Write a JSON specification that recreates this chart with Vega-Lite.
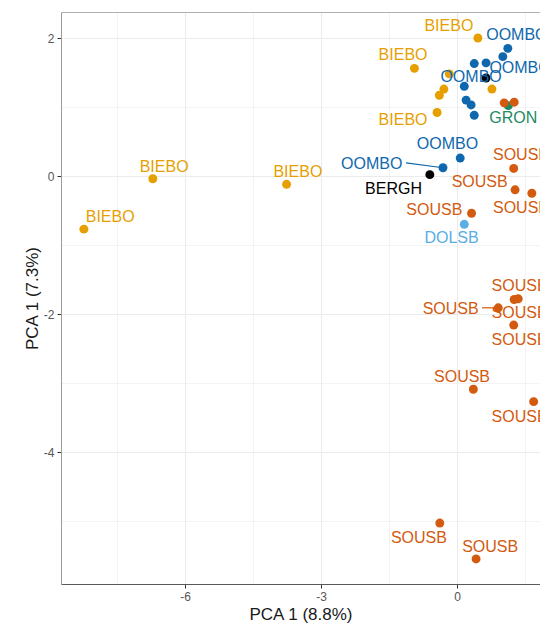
{
  "$schema": "https://vega.github.io/schema/vega-lite/v6.json",
  "autosize": {"type": "none"},
  "padding": {"left": 61, "top": 12, "right": 0, "bottom": 42},
  "width": 479,
  "height": 572,
  "background": "white",
  "view": {"stroke": null},
  "config": {
    "font": "Liberation Sans",
    "axis": {"labelFont": "Liberation Sans", "titleFont": "Liberation Sans"}
  },
  "data": {
    "values": [
      {"g": "BIEBO", "x": -8.23, "y": -0.77, "lx": -7.65, "ly": -0.59},
      {"g": "BIEBO", "x": -6.71, "y": -0.04, "lx": -6.46, "ly": 0.13},
      {"g": "BIEBO", "x": -3.76, "y": -0.12, "lx": -3.51, "ly": 0.06},
      {"g": "BIEBO", "x": -0.94, "y": 1.56, "lx": -1.19, "ly": 1.75},
      {"g": "BIEBO", "x": 0.46, "y": 2.0, "lx": -0.18, "ly": 2.17},
      {"g": "BIEBO", "x": -0.17, "y": 1.48},
      {"g": "BIEBO", "x": -0.29, "y": 1.26},
      {"g": "BIEBO", "x": -0.39, "y": 1.17},
      {"g": "BIEBO", "x": -0.44, "y": 0.92, "lx": -1.19, "ly": 0.81},
      {"g": "BIEBO", "x": 0.77, "y": 1.26},
      {"g": "OOMBO", "x": 1.12, "y": 1.85, "lx": 1.32, "ly": 2.04},
      {"g": "OOMBO", "x": 1.01, "y": 1.73, "lx": 1.39, "ly": 1.57},
      {"g": "OOMBO", "x": 0.38, "y": 1.63, "lx": 0.31, "ly": 1.43},
      {"g": "OOMBO", "x": 0.64, "y": 1.64},
      {"g": "OOMBO", "x": 0.16, "y": 1.3},
      {"g": "OOMBO", "x": 0.2, "y": 1.1},
      {"g": "OOMBO", "x": 0.31, "y": 1.03},
      {"g": "OOMBO", "x": 0.38, "y": 0.88},
      {"g": "OOMBO", "x": 0.07, "y": 0.26, "lx": -0.21, "ly": 0.46},
      {"g": "OOMBO", "x": -0.31, "y": 0.12, "lx": -1.88, "ly": 0.18, "sx": -1.125, "sy": 0.19},
      {"g": "BERGH", "x": -0.6, "y": 0.02, "lx": -1.4, "ly": -0.19},
      {"g": "BERGH", "x": 0.64, "y": 1.42},
      {"g": "GRON", "x": 1.13, "y": 1.02, "lx": 1.24, "ly": 0.84},
      {"g": "DOLSB", "x": 0.16, "y": -0.7, "lx": -0.12, "ly": -0.9},
      {"g": "SOUSB", "x": 1.04, "y": 1.06},
      {"g": "SOUSB", "x": 1.26, "y": 1.07},
      {"g": "SOUSB", "x": 1.25, "y": 0.11, "lx": 1.41, "ly": 0.3},
      {"g": "SOUSB", "x": 1.28, "y": -0.2, "lx": 0.5, "ly": -0.08},
      {"g": "SOUSB", "x": 1.65, "y": -0.25, "lx": 1.41, "ly": -0.47},
      {"g": "SOUSB", "x": 0.32, "y": -0.54, "lx": -0.5, "ly": -0.49},
      {"g": "SOUSB", "x": 0.91, "y": -1.91, "lx": -0.14, "ly": -1.93, "sx": 0.55, "sy": -1.91},
      {"g": "SOUSB", "x": 1.26, "y": -1.79, "lx": 1.38, "ly": -1.59},
      {"g": "SOUSB", "x": 1.35, "y": -1.78, "lx": 1.38, "ly": -1.98},
      {"g": "SOUSB", "x": 1.25, "y": -2.16, "lx": 1.38, "ly": -2.38},
      {"g": "SOUSB", "x": 0.36, "y": -3.09, "lx": 0.11, "ly": -2.92},
      {"g": "SOUSB", "x": 1.69, "y": -3.27, "lx": 1.38, "ly": -3.49},
      {"g": "SOUSB", "x": -0.38, "y": -5.03, "lx": -0.84, "ly": -5.24},
      {"g": "SOUSB", "x": 0.42, "y": -5.55, "lx": 0.73, "ly": -5.37}
    ]
  },
  "resolve": {"axis": {"x": "independent"}},
  "layer": [
    {
      "mark": {"type": "circle", "size": 80, "opacity": 1},
      "encoding": {
        "x": {
          "field": "x", "type": "quantitative", "title": "PCA 1 (8.8%)",
          "scale": {"domain": [-8.735, 1.83], "nice": false, "zero": false},
          "axis": {
            "values": [-7.5, -6, -4.5, -3, -1.5, 0, 1.5],
            "labelExpr": "datum.value % 3 === 0 ? toString(datum.value) : ''",
            "tickOpacity": {"condition": {"test": "datum.value % 3 === 0", "value": 1}, "value": 0},
            "gridWidth": {"condition": {"test": "datum.value % 3 === 0", "value": 1}, "value": 0.6},
            "gridColor": "#ebebeb",
            "domainColor": "#5a5a5a",
            "tickColor": "#333333",
            "tickSize": 4,
            "labelColor": "#555555",
            "labelFontSize": 12,
            "labelPadding": 3,
            "titleFontSize": 17,
            "titleFontWeight": "normal",
            "titleColor": "#1a1a1a",
            "titlePadding": 4
          }
        },
        "y": {
          "field": "y", "type": "quantitative", "title": "PCA 1 (7.3%)",
          "scale": {"domain": [-5.913, 2.377], "nice": false, "zero": false},
          "axis": {
            "values": [2, 1, 0, -1, -2, -3, -4, -5],
            "labelExpr": "datum.value % 2 === 0 ? toString(datum.value) : ''",
            "tickOpacity": {"condition": {"test": "datum.value % 2 === 0", "value": 1}, "value": 0},
            "gridWidth": {"condition": {"test": "datum.value % 2 === 0", "value": 1}, "value": 0.6},
            "gridColor": "#ebebeb",
            "domainColor": "#9a9a9a",
            "tickColor": "#333333",
            "tickSize": 4,
            "labelColor": "#555555",
            "labelFontSize": 12,
            "labelPadding": 3,
            "titleFontSize": 17,
            "titleFontWeight": "normal",
            "titleColor": "#1a1a1a",
            "titlePadding": 2
          }
        },
        "color": {
          "field": "g", "type": "nominal", "legend": null,
          "scale": {
            "domain": ["BIEBO", "OOMBO", "BERGH", "GRON", "DOLSB", "SOUSB"],
            "range": ["#E69F00", "#0F68AE", "#000000", "#1E8A62", "#5AAEE3", "#D35A0F"]
          }
        }
      }
    },
    {
      "transform": [{"filter": "isValid(datum.sx)"}],
      "mark": {"type": "rule", "strokeWidth": 1.2},
      "encoding": {
        "x": {"field": "sx", "type": "quantitative", "axis": null, "scale": {"domain": [-8.735, 1.83], "nice": false, "zero": false}},
        "x2": {"field": "x"},
        "y": {"field": "sy", "type": "quantitative", "title": "PCA 1 (7.3%)", "scale": {"domain": [-5.913, 2.377], "nice": false, "zero": false}},
        "y2": {"field": "y"},
        "color": {"field": "g", "type": "nominal", "legend": null}
      }
    },
    {
      "transform": [{"filter": "isValid(datum.lx)"}],
      "mark": {"type": "text", "fontSize": 16, "font": "Liberation Sans", "align": "center", "baseline": "middle"},
      "encoding": {
        "x": {
          "field": "lx", "type": "quantitative",
          "scale": {"domain": [-8.735, 1.83], "nice": false, "zero": false},
          "axis": {"orient": "top", "labels": false, "ticks": false, "grid": false, "title": null, "domainColor": "#b0b0b0"}
        },
        "y": {"field": "ly", "type": "quantitative", "title": "PCA 1 (7.3%)", "scale": {"domain": [-5.913, 2.377], "nice": false, "zero": false}},
        "text": {"field": "g"},
        "color": {"field": "g", "type": "nominal", "legend": null}
      }
    }
  ]
}
